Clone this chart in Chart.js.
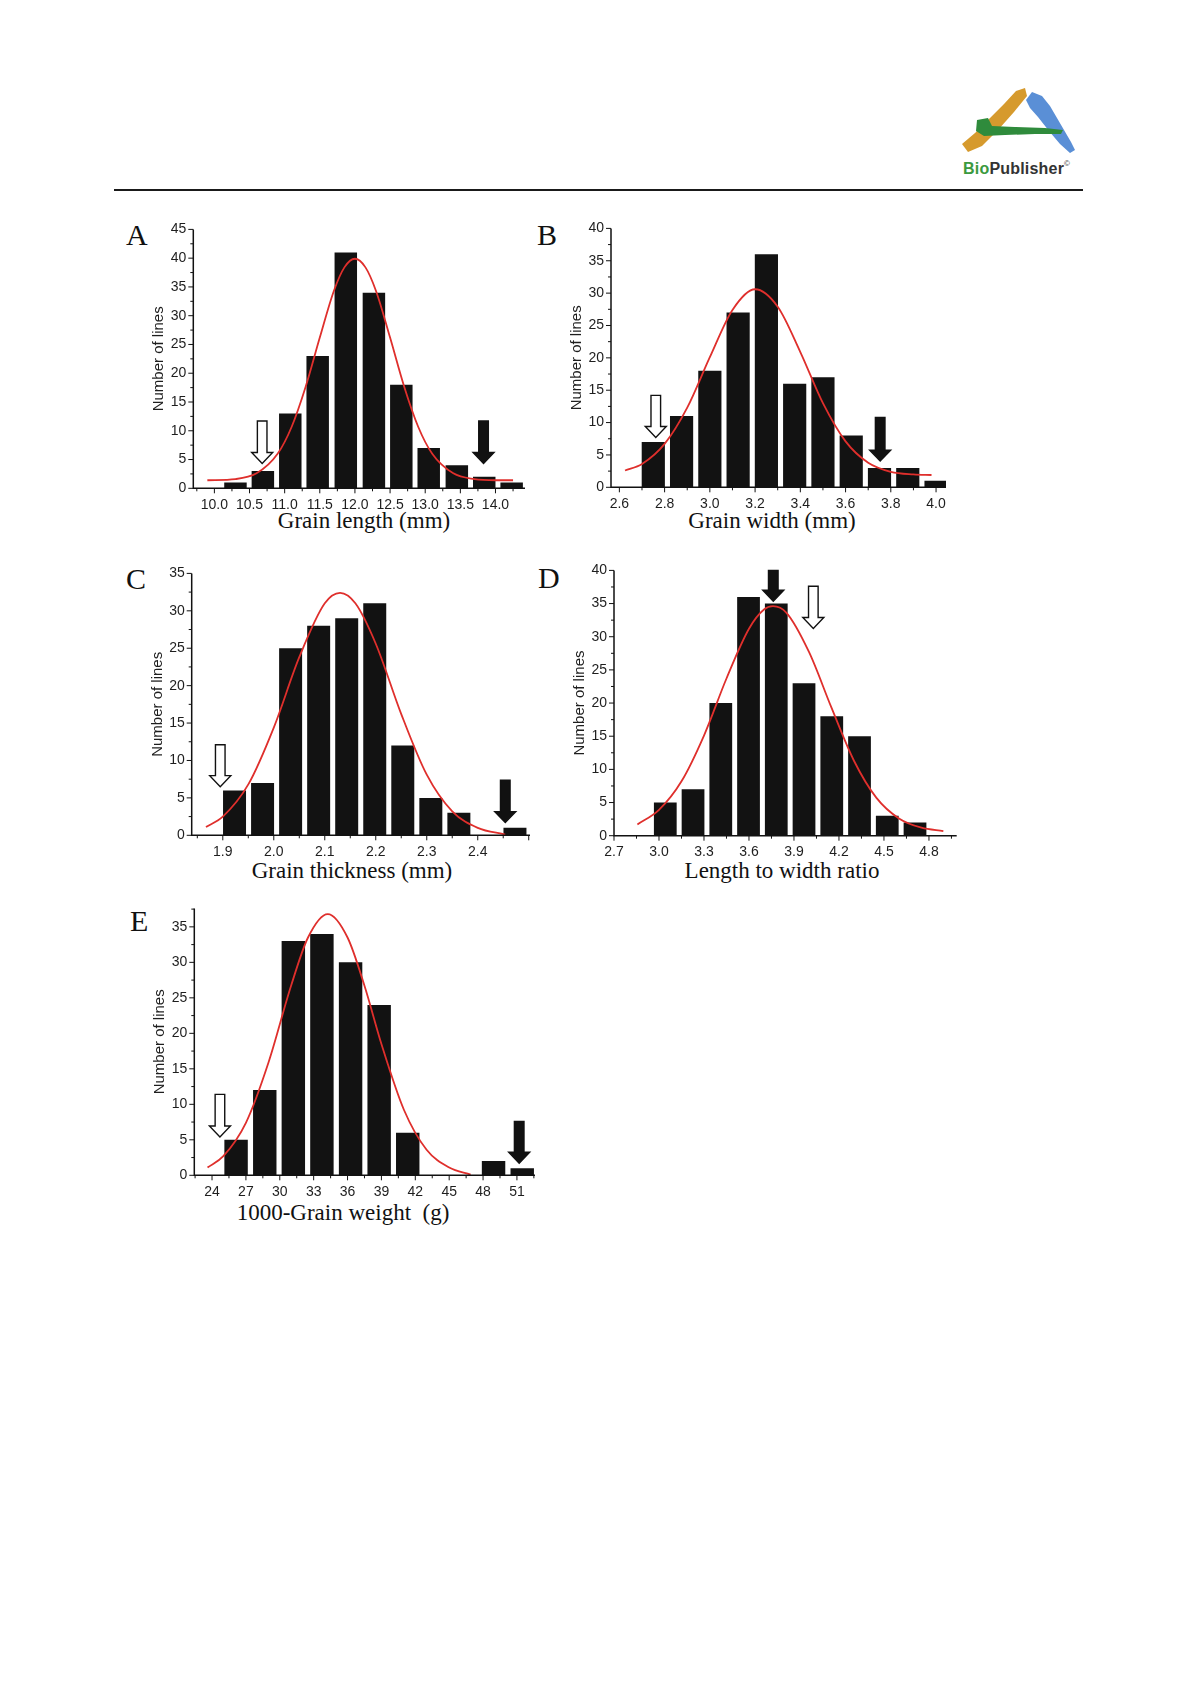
<!DOCTYPE html>
<html>
<head>
<meta charset="utf-8">
<title>Grain trait distributions</title>
<script src="https://cdn.jsdelivr.net/npm/chart.js@4.4.0/dist/chart.umd.min.js"></script>
<style>
  body { margin: 0; background: #fff; width: 1197px; height: 1693px; position: relative; overflow: hidden; }
  .letter { position: absolute; font-family: "Liberation Serif", "Times New Roman", serif; font-size: 30px; line-height: 1; color: #111; }
  .xtitle { position: absolute; font-family: "Liberation Serif", "Times New Roman", serif; font-size: 23px; line-height: 1; color: #111; white-space: pre; transform: translateX(-50%); }
  .rule { position: absolute; left: 114px; top: 189px; width: 969px; height: 2px; background: #1a1a1a; }
  .brand { position: absolute; left: 963px; top: 160px; font-family: "Liberation Sans", Arial, sans-serif; font-weight: bold; font-size: 16px; line-height: 1; color: #333; letter-spacing: 0.2px; }
  .brand .bio { color: #3b9a3e; }
  .brand sup { font-size: 8px; font-weight: normal; vertical-align: 8px; }
</style>
</head>
<body>

<!-- header -->
<svg style="position:absolute;left:0;top:0" width="1197" height="200">
  <polygon fill="#d69a2d" points="962,144 968,152 982,146 998,130 1014,112 1027,96 1025,88 1016,91 1004,104 990,118 975,133"/>
  <polygon fill="#5a8fd6" points="1026,100 1032,92 1042,96 1050,106 1057,118 1064,130 1071,142 1075,150 1070,153 1060,144 1049,131 1038,117 1030,108"/>
  <polygon fill="#2f8b3c" points="977,120 988,118 992,126 1015,127 1045,128 1063,130 1061,134 1035,134 1005,135 984,136 976,131"/>
</svg>
<div class="brand"><span class="bio">Bio</span>Publisher<sup>©</sup></div>
<div class="rule"></div>

<div class="letter" style="left:126px;top:220px">A</div>
<div class="letter" style="left:537px;top:220px">B</div>
<div class="letter" style="left:126px;top:564px">C</div>
<div class="letter" style="left:538px;top:563px">D</div>
<div class="letter" style="left:130px;top:906px">E</div>

<div class="xtitle" style="left:364px;top:509px">Grain length (mm)</div>
<div class="xtitle" style="left:772px;top:509px">Grain width (mm)</div>
<div class="xtitle" style="left:352px;top:859px">Grain thickness (mm)</div>
<div class="xtitle" style="left:782px;top:859px">Length to width ratio</div>
<div class="xtitle" style="left:343px;top:1201px">1000-Grain weight  (g)</div>

<script>
// ---- A: grain length ----
const lenBins   = [10.30, 10.69, 11.08, 11.47, 11.87, 12.27, 12.66, 13.05, 13.45, 13.84, 14.23];
const lenCounts = [1, 3, 13, 23, 41, 34, 18, 7, 4, 2, 1];
const lenCurveX = [9.9, 10.3, 10.6, 10.9, 11.1, 11.3, 11.5, 11.7, 11.85, 12.0, 12.15, 12.3, 12.5, 12.7, 12.9, 13.1, 13.4, 13.7, 14.0, 14.25];
const lenCurveY = [1.4, 1.6, 2.6, 6.0, 10.7, 17.7, 26.2, 34.3, 38.4, 39.9, 38.4, 34.3, 26.2, 17.7, 10.7, 6.0, 2.6, 1.6, 1.4, 1.4];
const lenXTicks = [10.0, 10.5, 11.0, 11.5, 12.0, 12.5, 13.0, 13.5, 14.0];
const lenYTicks = [0, 5, 10, 15, 20, 25, 30, 35, 40, 45];
const lenArrows = [{ x: 10.68, from: 11.7, to: 4.3, hollow: true }, { x: 13.83, from: 11.7, to: 4.3, hollow: false }];

// ---- B: grain width ----
const widBins   = [2.75, 2.875, 3.0, 3.125, 3.25, 3.375, 3.5, 3.625, 3.75, 3.875, 4.0];
const widCounts = [7, 11, 18, 27, 36, 16, 17, 8, 3, 3, 1];
const widCurveX = [2.625, 2.7, 2.8, 2.9, 3.0, 3.1, 3.2, 3.3, 3.4, 3.5, 3.6, 3.7, 3.8, 3.9, 3.98];
const widCurveY = [2.6, 3.6, 6.7, 12.3, 20.1, 27.4, 30.6, 27.9, 20.9, 13.0, 7.1, 3.8, 2.4, 2.0, 1.9];
const widXTicks = [2.6, 2.8, 3.0, 3.2, 3.4, 3.6, 3.8, 4.0];
const widYTicks = [0, 5, 10, 15, 20, 25, 30, 35, 40];
const widArrows = [{ x: 2.761, from: 14.2, to: 7.7, hollow: true }, { x: 3.753, from: 10.8, to: 4.05, hollow: false }];

// ---- C: grain thickness ----
const thkBins   = [1.923, 1.978, 2.033, 2.088, 2.143, 2.198, 2.253, 2.308, 2.363, 2.418, 2.473];
const thkCounts = [6, 7, 25, 28, 29, 31, 12, 5, 3, 0, 1];
const thkCurveX = [1.867, 1.9, 1.95, 2.0, 2.05, 2.1, 2.13, 2.16, 2.2, 2.25, 2.3, 2.35, 2.4, 2.454];
const thkCurveY = [1.1, 2.5, 6.8, 14.4, 23.8, 31.0, 32.4, 31.0, 25.6, 16.2, 8.1, 3.2, 1.0, 0.1];
const thkXTicks = [1.9, 2.0, 2.1, 2.2, 2.3, 2.4];
const thkYTicks = [0, 5, 10, 15, 20, 25, 30, 35];
const thkArrows = [{ x: 1.895, from: 12.1, to: 6.5, hollow: true }, { x: 2.454, from: 7.35, to: 1.7, hollow: false }];

// ---- D: length to width ratio ----
const ratBins   = [3.042, 3.227, 3.412, 3.597, 3.782, 3.967, 4.152, 4.337, 4.522, 4.707];
const ratCounts = [5, 7, 20, 36, 35, 23, 18, 15, 3, 2];
const ratCurveX = [2.856, 3.0, 3.15, 3.3, 3.45, 3.6, 3.7, 3.76, 3.85, 4.0, 4.15, 4.3, 4.45, 4.6, 4.75, 4.896];
const ratCurveY = [1.7, 3.9, 8.2, 15.1, 23.7, 31.2, 34.1, 34.6, 33.6, 27.7, 19.3, 11.3, 5.7, 2.6, 1.2, 0.7];
const ratXTicks = [2.7, 3.0, 3.3, 3.6, 3.9, 4.2, 4.5, 4.8];
const ratYTicks = [0, 5, 10, 15, 20, 25, 30, 35, 40];
const ratArrows = [{ x: 3.762, from: 40, to: 35.35, hollow: false }, { x: 4.029, from: 37.6, to: 31.25, hollow: true }];

// ---- E: 1000-grain weight ----
const tgwBins   = [26.13, 28.67, 31.2, 33.73, 36.27, 38.8, 41.33, 43.87, 46.4, 48.93, 51.47];
const tgwCounts = [5, 12, 33, 34, 30, 24, 6, 0, 0, 2, 1];
const tgwCurveX = [23.6, 25, 27, 29, 31, 32.5, 34.25, 36, 37.5, 39, 41, 43, 45, 46.9];
const tgwCurveY = [1.1, 2.7, 7.4, 15.9, 26.7, 33.5, 36.8, 33.5, 26.7, 18.5, 9.2, 3.6, 1.1, 0.1];
const tgwXTicks = [24, 27, 30, 33, 36, 39, 42, 45, 48, 51];
const tgwYTicks = [0, 5, 10, 15, 20, 25, 30, 35];
const tgwArrows = [{ x: 24.7, from: 11.4, to: 5.4, hollow: true }, { x: 51.2, from: 7.6, to: 1.7, hollow: false }];

const SANS = '"Liberation Sans", Arial, sans-serif';
const RED = '#df2f2c';
const BAR = '#121212';
const YW = 62, XH = 34, PT = 14, PR = 30;

// page box of each plot area (where the axes sit in the figure)
const panels = [
  { box: { l: 193.3, r: 525, t: 228.3, b: 488.3 }, xMin: 9.70, xMax: 14.42, yMax: 45, dec: 1, xMinor: 0.25,
    bins: lenBins, counts: lenCounts, cx: lenCurveX, cy: lenCurveY, xt: lenXTicks, yt: lenYTicks, arrows: lenArrows },
  { box: { l: 611, r: 946, t: 227.3, b: 487.3 }, xMin: 2.563, xMax: 4.044, yMax: 40, dec: 1, xMinor: 0.1,
    bins: widBins, counts: widCounts, cx: widCurveX, cy: widCurveY, xt: widXTicks, yt: widYTicks, arrows: widArrows },
  { box: { l: 191.7, r: 530, t: 572, b: 835.3 }, xMin: 1.839, xMax: 2.5025, yMax: 35, dec: 1, xMinor: 0.05,
    bins: thkBins, counts: thkCounts, cx: thkCurveX, cy: thkCurveY, xt: thkXTicks, yt: thkYTicks, arrows: thkArrows },
  { box: { l: 614, r: 956.7, t: 569, b: 835.7 }, xMin: 2.7, xMax: 4.985, yMax: 40, dec: 1, xMinor: 0.15,
    bins: ratBins, counts: ratCounts, cx: ratCurveX, cy: ratCurveY, xt: ratXTicks, yt: ratYTicks, arrows: ratArrows },
  { box: { l: 194.3, r: 535, t: 907.3, b: 1175.3 }, xMin: 22.43, xMax: 52.6, yMax: 37.6, dec: 0, xMinor: 1.5,
    bins: tgwBins, counts: tgwCounts, cx: tgwCurveX, cy: tgwCurveY, xt: tgwXTicks, yt: tgwYTicks, arrows: tgwArrows }
];

function drawArrow(ctx, x, y0, y1, hollow) {
  const sw = 4.8, hw = 10.5, hh = 11;
  ctx.beginPath();
  ctx.moveTo(x - sw, y0);
  ctx.lineTo(x + sw, y0);
  ctx.lineTo(x + sw, y1 - hh);
  ctx.lineTo(x + hw, y1 - hh);
  ctx.lineTo(x, y1);
  ctx.lineTo(x - hw, y1 - hh);
  ctx.lineTo(x - sw, y1 - hh);
  ctx.closePath();
  ctx.fillStyle = hollow ? '#fff' : '#111';
  ctx.fill();
  ctx.lineWidth = 1.4;
  ctx.strokeStyle = '#111';
  ctx.stroke();
}

// axis lines, major/minor tick marks and the arrow markers
const framePlugin = {
  id: 'frame',
  afterDatasetsDraw(chart, args, opts) {
    const { ctx, chartArea: a, scales: { x, y } } = chart;
    ctx.save();
    ctx.strokeStyle = '#111';
    ctx.lineWidth = 1;
    ctx.beginPath();
    // y ticks
    const yStep = opts.yTicks[1] - opts.yTicks[0];
    const yMinor = yStep / 2;
    for (let k = 0; k * yMinor <= y.max + 1e-9; k++) {
      const p = y.getPixelForValue(k * yMinor);
      const len = k % 2 === 0 ? 5 : 3;
      ctx.moveTo(a.left, p); ctx.lineTo(a.left - len, p);
    }
    // x ticks
    const x0 = opts.xTicks[0];
    const xStep = opts.xTicks[1] - opts.xTicks[0];
    const ratio = Math.round(xStep / opts.xMinor);
    for (let k = -40; k <= 200; k++) {
      const v = x0 + k * opts.xMinor;
      if (v < x.min - 1e-9 || v > x.max + 1e-9) continue;
      const p = x.getPixelForValue(v);
      const len = ((k % ratio) + ratio) % ratio === 0 ? 5 : 3;
      ctx.moveTo(p, a.bottom); ctx.lineTo(p, a.bottom + len);
    }
    ctx.stroke();
    // axis lines
    ctx.lineWidth = 1.5;
    ctx.beginPath();
    ctx.moveTo(a.left, a.top);
    ctx.lineTo(a.left, a.bottom);
    ctx.lineTo(a.right, a.bottom);
    ctx.stroke();
    // arrows
    opts.arrows.forEach(ar => {
      drawArrow(ctx, x.getPixelForValue(ar.x), y.getPixelForValue(ar.from), y.getPixelForValue(ar.to), ar.hollow);
    });
    ctx.restore();
  }
};

function buildPanel(p) {
  const cl = Math.floor(p.box.l - YW);
  const ct = Math.floor(p.box.t - PT);
  const cw = Math.ceil(p.box.r + PR - cl);
  const ch = Math.ceil(p.box.b + XH + 2 - ct);
  const cv = document.createElement('canvas');
  cv.width = cw;
  cv.height = ch;
  cv.style.cssText = `position:absolute;left:${cl}px;top:${ct}px;width:${cw}px;height:${ch}px`;
  document.body.appendChild(cv);

  const pad = {
    left: p.box.l - YW - cl,
    top: p.box.t - ct,
    right: cl + cw - p.box.r,
    bottom: ct + ch - p.box.b - XH
  };

  new Chart(cv, {
    type: 'bar',
    data: {
      datasets: [
        {
          type: 'line',
          data: p.cx.map((v, i) => ({ x: v, y: p.cy[i] })),
          borderColor: RED,
          borderWidth: 1.8,
          pointRadius: 0,
          cubicInterpolationMode: 'monotone',
          fill: false,
          order: 0
        },
        {
          type: 'bar',
          data: p.bins.map((v, i) => ({ x: v, y: p.counts[i] })),
          backgroundColor: BAR,
          borderWidth: 0,
          barPercentage: 0.82,
          categoryPercentage: 1,
          order: 1
        }
      ]
    },
    options: {
      responsive: false,
      animation: false,
      devicePixelRatio: 1,
      layout: { padding: pad },
      plugins: {
        legend: { display: false },
        tooltip: { enabled: false },
        frame: { xTicks: p.xt, yTicks: p.yt, xMinor: p.xMinor, arrows: p.arrows }
      },
      scales: {
        x: {
          type: 'linear',
          min: p.xMin,
          max: p.xMax,
          offset: false,
          grid: { display: false, drawTicks: false },
          border: { display: false },
          afterBuildTicks: s => { s.ticks = p.xt.map(v => ({ value: v })); },
          afterFit: s => { s.height = XH; },
          ticks: {
            autoSkip: false, maxRotation: 0, padding: 8, color: '#1e1e1e',
            font: { family: SANS, size: 14 },
            callback: v => Number(v).toFixed(p.dec)
          }
        },
        y: {
          type: 'linear',
          min: 0,
          max: p.yMax,
          grid: { display: false, drawTicks: false },
          border: { display: false },
          afterBuildTicks: s => { s.ticks = p.yt.map(v => ({ value: v })); },
          afterFit: s => { s.width = YW; },
          ticks: { padding: 7, color: '#1e1e1e', font: { family: SANS, size: 14 } },
          title: {
            display: true,
            text: 'Number of lines',
            color: '#1e1e1e',
            font: { family: SANS, size: 15 },
            padding: { top: 19, bottom: 0 }
          }
        }
      }
    },
    plugins: [framePlugin]
  });
}

panels.forEach(buildPanel);
</script>
</body>
</html>
